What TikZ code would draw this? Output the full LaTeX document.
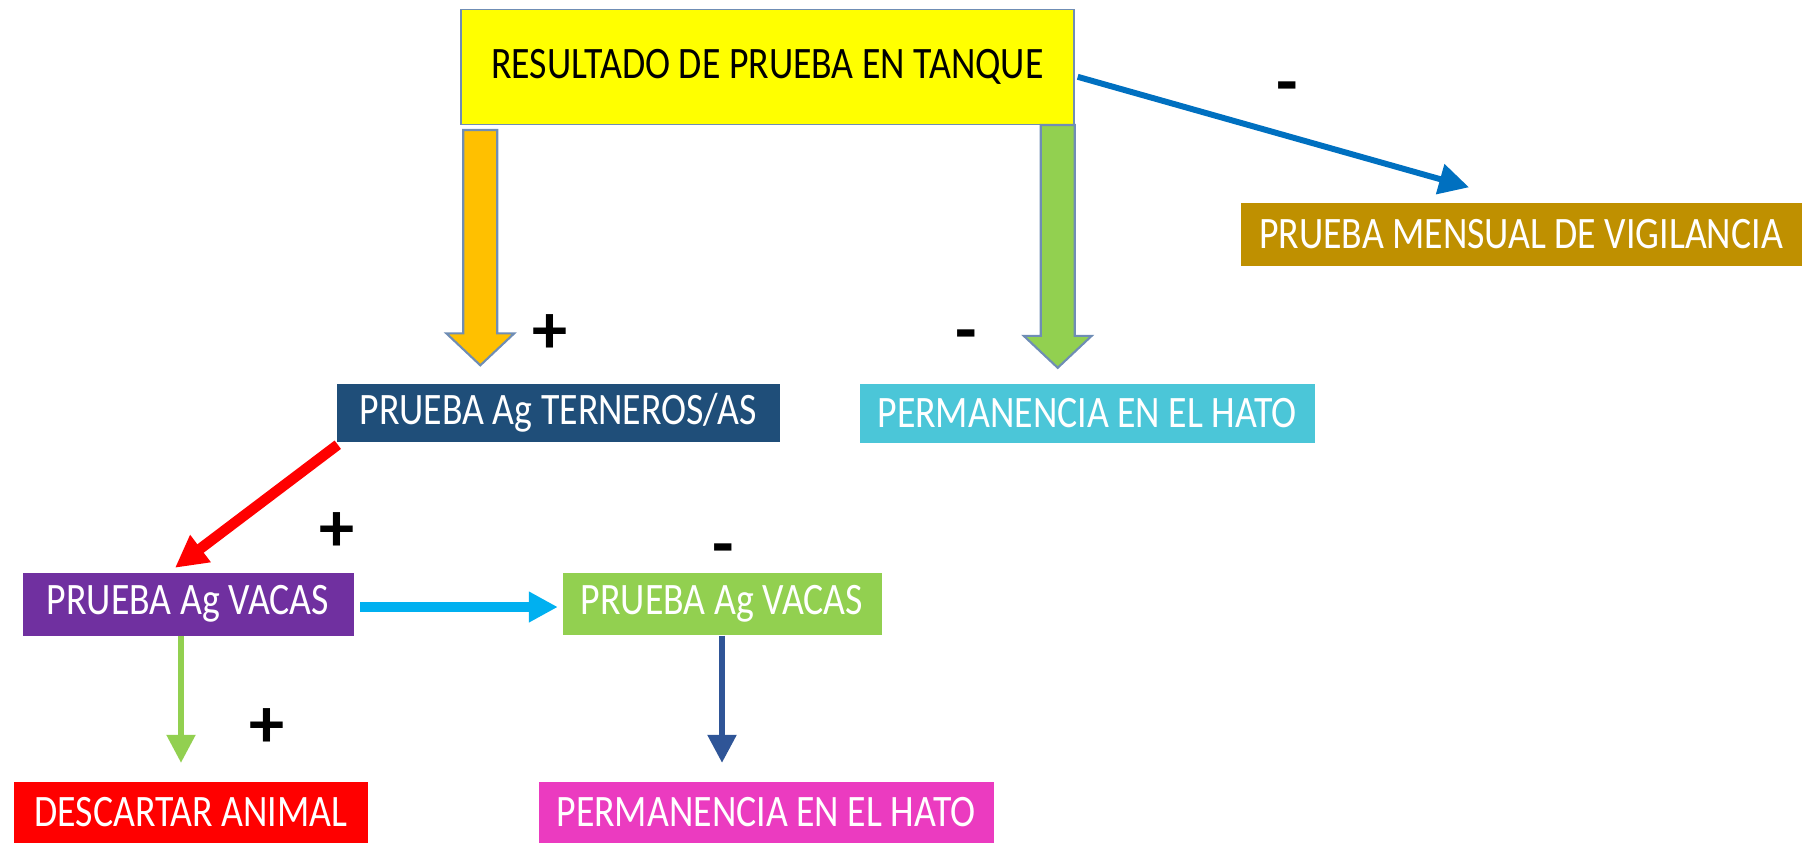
\documentclass[tikz,border=0pt]{standalone}
\usepackage{fontspec}
\setmainfont{Carlito}
\newfontfamily\estrecha[FakeStretch=0.84]{Carlito}
\usepackage{tikz}
\usetikzlibrary{arrows.meta, positioning, calc}

\definecolor{amarillo}{HTML}{FFFF00}
\definecolor{borde}{HTML}{6F8DB5}
\definecolor{naranja}{HTML}{FFC000}
\definecolor{verde}{HTML}{92D050}
\definecolor{oro}{HTML}{BF9000}
\definecolor{marino}{HTML}{1F4E79}
\definecolor{celeste}{HTML}{4BC6D8}
\definecolor{morado}{HTML}{7030A0}
\definecolor{rosa}{HTML}{EB3BC0}
\definecolor{azul}{HTML}{0070C0}
\definecolor{cian}{HTML}{00B0F0}
\definecolor{azulosc}{HTML}{2F5597}

% flecha gruesa vertical: inicio, punta, color
\newcommand{\fatarrow}[3]{%
  \draw[borde, line width=0.6pt, fill=#3, line join=miter]
    ($(#1)+(-0.17,0)$) -- ($(#2)+(-0.17,-0.32)$) -- ($(#2)+(-0.34,-0.32)$) -- (#2)
    -- ($(#2)+(0.34,-0.32)$) -- ($(#2)+(0.17,-0.32)$) -- ($(#1)+(0.17,0)$) -- cycle;}

\begin{document}
\begin{tikzpicture}[y=-1cm,
    box/.style={inner sep=0pt, text=white, font=\estrecha\fontsize{12.8}{15}\selectfont},
    signo/.style={inner sep=0pt, font=\fontsize{20}{24}\selectfont\bfseries},
    punta/.style={-{Triangle[length=#1, width=#1]}}]
\useasboundingbox (0,0) rectangle (18.07,8.42);

\node[box, fill=amarillo, draw=borde, text=black, minimum width=6.13cm, minimum height=1.15cm] (tanque) at (7.675,0.668) {RESULTADO DE PRUEBA EN TANQUE};
\node[box, fill=oro, minimum width=5.61cm, minimum height=0.63cm] (mensual) at (15.21,2.345) {PRUEBA MENSUAL DE VIGILANCIA};
\node[box, fill=marino, minimum width=4.43cm, minimum height=0.58cm] (terneros) at (5.58,4.13) {PRUEBA Ag TERNEROS/AS};
\node[box, fill=celeste, minimum width=4.55cm, minimum height=0.59cm] (hato1) at (10.87,4.13) {PERMANENCIA EN EL HATO};
\node[box, fill=morado, minimum width=3.31cm, minimum height=0.63cm] (vacas1) at (1.88,6.04) {PRUEBA Ag VACAS};
\node[box, fill=verde, minimum width=3.19cm, minimum height=0.62cm] (vacas2) at (7.22,6.04) {PRUEBA Ag VACAS};
\node[box, fill=red, minimum width=3.54cm, minimum height=0.61cm] (descartar) at (1.91,8.12) {DESCARTAR ANIMAL};
\node[box, fill=rosa, minimum width=4.55cm, minimum height=0.61cm] (hato2) at (7.66,8.12) {PERMANENCIA EN EL HATO};

\coordinate (o1) at ($(tanque.south west)+(0.2,0.05)$);
\coordinate (p1) at ($(terneros.north west)+(1.45,-0.18)$);
\coordinate (o2) at ($(tanque.south east)+(-0.17,0)$);
\coordinate (p2) at ($(hato1.north)+(-0.30,-0.15)$);
\fatarrow{o1}{o1 |- p1}{naranja}
\fatarrow{o2}{o2 |- p2}{verde}

\draw[azul, line width=1.7pt, punta=0.3cm] ($(tanque.east)+(0.03,0.1)$) -- ($(mensual.north)+(-0.52,-0.15)$);
\draw[red, line width=3pt, punta=0.32cm] ($(terneros.south west)+(0.02,0.02)$) -- ($(vacas1.north)+(-0.13,-0.04)$);
\draw[cian, line width=2.8pt, punta=0.29cm] ($(vacas1.east)+(0.06,0.03)$) -- ($(vacas2.west)+(-0.04,0.03)$);
\coordinate (f1) at ($(descartar.north)+(-0.1,-0.18)$);
\draw[verde, line width=1.5pt, punta=0.28cm] ($(vacas1.south)+(-0.07,0)$) -- (f1);
\draw[azulosc, line width=1.6pt, punta=0.28cm] (vacas2.south) -- (vacas2.south |- f1);

\foreach \pos/\txt/\nm in {{(5.50,3.34)}/+/s1, {(9.66,3.42)}/-/s2, {(12.87,0.94)}/-/s3,
    {(3.37,5.32)}/+/s4, {(7.23,5.56)}/-/s5, {(2.67,7.28)}/+/s6}
  \node[signo] (\nm) at \pos {\txt};
\end{tikzpicture}
\end{document}
